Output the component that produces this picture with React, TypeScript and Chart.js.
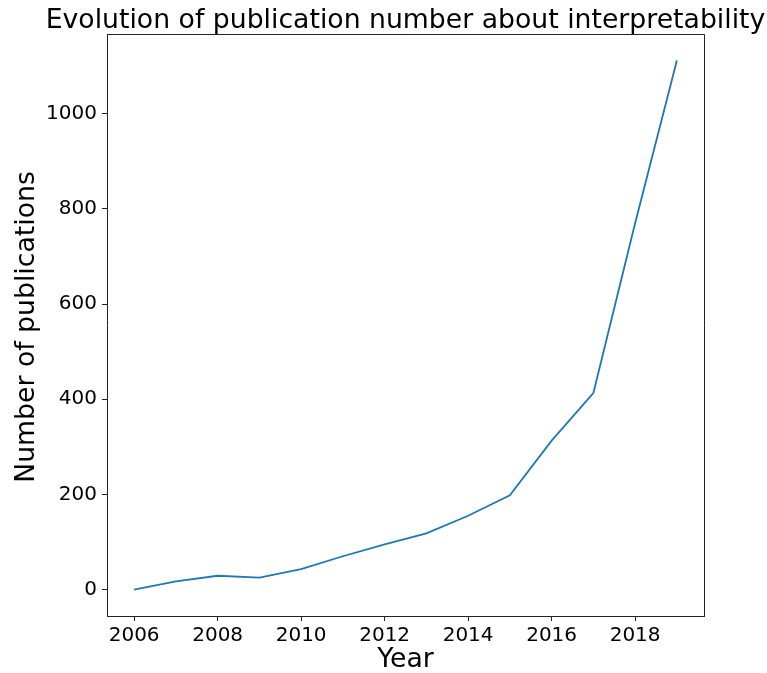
import React, { useEffect, useRef } from "react";
import { Chart, registerables } from "chart.js";

Chart.register(...registerables);

const years = [2006, 2007, 2008, 2009, 2010, 2011, 2012, 2013, 2014, 2015, 2016, 2017, 2018, 2019];
const publications = [0, 17, 29, 25, 43, 70, 95, 118, 155, 198, 313, 413, 770, 1112];
const xTicks = [2006, 2008, 2010, 2012, 2014, 2016, 2018];
const yTicks = [0, 200, 400, 600, 800, 1000];
const titleText = "Evolution of publication number about interpretability";
const xLabel = "Year";
const yLabel = "Number of publications";

const FONT = "'DejaVu Sans', sans-serif";

export default function App() {
  const ref = useRef<HTMLCanvasElement | null>(null);
  useEffect(() => {
    if (!ref.current) return;
    const xMin = years[0] - 0.05 * (years[years.length - 1] - years[0]);
    const xMax = years[years.length - 1] + 0.05 * (years[years.length - 1] - years[0]);
    const yMaxV = Math.max(...publications);
    const yMinV = Math.min(...publications);
    const yMin = yMinV - 0.05 * (yMaxV - yMinV);
    const yMax = yMaxV + 0.05 * (yMaxV - yMinV);

    const textPlugin = {
      id: "textPlugin",
      afterDraw(chart: any) {
        const ctx = chart.ctx;
        const a = chart.chartArea;
        ctx.save();
        ctx.strokeStyle = "#222";
        ctx.lineWidth = 1;
        ctx.beginPath();
        ctx.moveTo(a.left, a.top + 0.5);
        ctx.lineTo(a.right + 0.5, a.top + 0.5);
        ctx.lineTo(a.right + 0.5, a.bottom);
        ctx.stroke();
        ctx.fillStyle = "#000";
        ctx.font = `26.7px ${FONT}`;
        ctx.textAlign = "center";
        ctx.textBaseline = "alphabetic";
        ctx.fillText(titleText, (a.left + a.right) / 2, 28);
        ctx.fillText(xLabel, (a.left + a.right) / 2, 667);
        ctx.translate(27, (a.top + a.bottom) / 2 + 2);
        ctx.rotate(-Math.PI / 2);
        ctx.textBaseline = "middle";
        ctx.fillText(yLabel, 0, 0);
        ctx.restore();
      },
    };

    const chart = new Chart(ref.current, {
      type: "line",
      data: {
        datasets: [
          {
            data: years.map((y, i) => ({ x: y, y: publications[i] })),
            borderColor: "#1f77b4",
            borderWidth: 1.8,
            pointRadius: 0,
            fill: false,
            tension: 0,
          },
        ],
      },
      options: {
        animation: false,
        responsive: false,
        maintainAspectRatio: false,
        layout: { padding: { left: 0, top: 34, right: 63, bottom: 0 } },
        plugins: { legend: { display: false }, tooltip: { enabled: false }, title: { display: false } },
        scales: {
          x: {
            type: "linear",
            min: xMin,
            max: xMax,
            afterBuildTicks: (s: any) => {
              s.ticks = xTicks.map((v) => ({ value: v }));
            },
            afterFit: (s: any) => {
              s.height = 57;
            },
            grid: { drawOnChartArea: false, drawTicks: true, tickLength: 5, color: "#222" },
            border: { display: true, color: "#222", width: 1 },
            ticks: {
              autoSkip: false,
              maxRotation: 0,
              padding: 3,
              color: "#000",
              font: { family: FONT, size: 20 },
              callback: (v: any) => String(v),
            },
          },
          y: {
            type: "linear",
            min: yMin,
            max: yMax,
            afterBuildTicks: (s: any) => {
              s.ticks = yTicks.map((v) => ({ value: v }));
            },
            afterFit: (s: any) => {
              s.width = 107;
            },
            grid: { drawOnChartArea: false, drawTicks: true, tickLength: 5, color: "#222" },
            border: { display: true, color: "#222", width: 1 },
            ticks: {
              autoSkip: false,
              padding: 5,
              color: "#000",
              font: { family: FONT, size: 20 },
              callback: (v: any) => String(v),
            },
          },
        },
      },
      plugins: [textPlugin],
    });
    return () => chart.destroy();
  }, []);
  return (
    <div style={{ position: "fixed", left: 0, top: 0, width: 767, height: 673, background: "#fff" }}>
      <canvas ref={ref} width={767} height={673} style={{ width: 767, height: 673 }} />
    </div>
  );
}
